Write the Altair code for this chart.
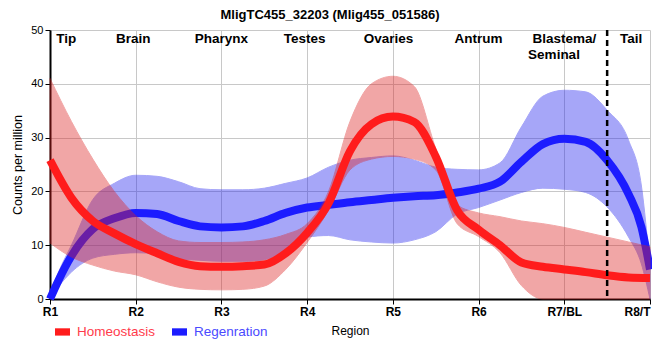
import json
import altair as alt
import pandas as pd

chart_title = "MligTC455_32203 (Mlig455_051586)"
region_ticks = ["R1", "R2", "R3", "R4", "R5", "R6", "R7/BL", "R8/T"]
series_names = ["Homeostasis", "Regenration"]
line_colors = ["#ff1c1c", "#1c1cff"]
band_colors = ["#dd2222", "#2222ee"]
label_colors = ["#ff3b4b", "#4a4aff"]

# Homeostasis (red)
homeo_x = [0, 0.25, 0.5, 0.75, 1, 1.25, 1.5, 1.75, 2, 2.25, 2.5, 2.75, 3, 3.25, 3.5,
           3.75, 4, 4.25, 4.5, 4.75, 5, 5.25, 5.5, 5.75, 6, 6.25, 6.5, 6.75, 7]
homeo_mean = [25.8, 18.8, 14.5, 12.2, 10.2, 8.5, 6.9, 6.1, 6.0, 6.1, 6.4, 8.5, 12.3, 17.8, 27.5,
              32.5, 33.9, 32.9, 26.5, 16.5, 12.9, 10.0, 6.8, 6.0, 5.5, 5.0, 4.4, 4.0, 3.9]
homeo_lo = [10.4, 7.8, 6.3, 5.2, 4.5, 3.2, 2.2, 1.8, 1.7, 1.8, 2.4, 5.5, 10.5, 16.5, 24.0,
            26.0, 26.5, 26.0, 24.0, 14.0, 11.6, 8.6, 2.5, 0.0, 0.0, 0.0, 0.0, 0.0, 0.0]
homeo_hi = [41.0, 33.0, 26.0, 20.0, 15.5, 12.5, 10.8, 10.5, 10.5, 10.6, 11.0, 12.0, 14.0, 20.0, 33.0,
            40.0, 41.4, 39.5, 28.0, 17.5, 16.0, 15.3, 14.5, 14.0, 13.3, 12.4, 11.5, 10.6, 9.7]

# Regenration (blue)
regen_x = [0, 0.1, 0.25, 0.5, 0.75, 1, 1.25, 1.5, 1.75, 2, 2.25, 2.5, 2.75, 3, 3.25, 3.5,
           3.75, 4, 4.25, 4.5, 4.75, 5, 5.25, 5.5, 5.75, 6, 6.25, 6.5, 6.75, 6.9, 7]
regen_mean = [0.0, 3.5, 8.0, 13.0, 15.0, 16.0, 15.8, 14.5, 13.5, 13.3, 13.5, 14.5, 16.0, 17.0, 17.5, 18.0,
              18.4, 18.8, 19.1, 19.3, 19.8, 20.5, 21.8, 25.5, 28.8, 29.8, 29.2, 25.8, 19.5, 13.4, 5.5]
regen_lo = [0.0, 2.3, 5.0, 7.6, 8.3, 8.6, 8.4, 7.5, 7.2, 7.0, 7.0, 7.3, 9.0, 11.5, 11.8, 11.0,
            10.6, 10.4, 11.0, 12.5, 15.8, 17.0, 18.4, 19.8, 20.6, 20.4, 19.8, 17.1, 11.5, 6.5, 0.0]
regen_hi = [0.5, 5.0, 10.0, 18.5, 21.5, 23.0, 22.8, 21.8, 20.5, 20.3, 20.3, 20.6, 21.5, 22.5, 24.5, 25.8,
            26.3, 26.6, 25.8, 24.5, 24.1, 24.0, 25.3, 32.0, 37.7, 38.8, 38.5, 35.1, 29.5, 21.0, 6.0]

# Region annotations along the top
region_names = ["Tip", "Brain", "Pharynx", "Testes", "Ovaries", "Antrum", "Blastema/", "Seminal", "Tail"]
region_pos = [0.19, 0.97, 2.0, 2.97, 3.95, 5.0, 6.0, 5.88, 6.78]
region_level = [47.65, 47.65, 47.65, 47.65, 47.65, 47.65, 47.65, 44.55, 47.65]
boundary_x = [6.5]

FONT = "Liberation Sans"

df_h = pd.DataFrame({"u": homeo_x, "mean": homeo_mean, "lo": homeo_lo, "hi": homeo_hi,
                     "series": series_names[0]})
df_r = pd.DataFrame({"u": regen_x, "mean": regen_mean, "lo": regen_lo, "hi": regen_hi,
                     "series": series_names[1]})
df_regions = pd.DataFrame({"x": region_pos, "y": region_level, "label": region_names})
df_rule = pd.DataFrame({"x": boundary_x})

label_expr = json.dumps(region_ticks) + "[datum.value]"
color_expr = "datum.label == '%s' ? '%s' : '%s'" % (series_names[0], label_colors[0], label_colors[1])
last_tick = len(region_ticks) - 1

x_enc = alt.X("u:Q", scale=alt.Scale(domain=[0, 7], nice=False),
              axis=alt.Axis(values=list(range(8)), labelExpr=label_expr, title="Region",
                            grid=True, gridColor="#c8c8c8", gridWidth=1,
                            domainColor="black", domainWidth=2, tickColor="black", tickSize=5,
                            labelFont=FONT, labelFontSize=12, labelFontWeight="bold",
                            labelColor="black", labelPadding=2, labelFlush=False, labelOverlap=False,
                            labelAlign=alt.condition("datum.value == %d" % last_tick,
                                                     alt.value("right"), alt.value("center")),
                            titleFont=FONT, titleFontSize=12, titleFontWeight="normal",
                            titleColor="black", titlePadding=8))
y_scale = alt.Scale(domain=[0, 50], nice=False)
y_axis = alt.Axis(values=list(range(0, 51, 5)), title="Counts per million",
                  grid=True, gridColor="#c8c8c8", gridWidth=1,
                  domainColor="black", domainWidth=2, tickColor="black", tickSize=5,
                  labelFont=FONT, labelFontSize=11, labelColor="black", labelPadding=2,
                  titleFont=FONT, titleFontSize=12.5, titleFontWeight="normal",
                  titleColor="black", titlePadding=6)

legend = alt.Legend(title=None, orient="none", legendX=1, legendY=290, direction="horizontal",
                    symbolType="M-1,0H1", symbolSize=225, symbolStrokeWidth=7.3, symbolOpacity=1,
                    labelFont=FONT, labelFontSize=13.5, labelColor=alt.ExprRef(expr=color_expr),
                    labelOffset=3, columnPadding=1)
color_enc = alt.Color("series:N", scale=alt.Scale(domain=series_names, range=line_colors),
                      legend=legend)


def band(df, col):
    return alt.Chart(df).mark_area(interpolate="monotone", fill=col, stroke=col,
                                   strokeWidth=1, opacity=0.4).encode(
        x=x_enc, y=alt.Y("lo:Q", scale=y_scale, axis=y_axis), y2="hi:Q")


def line(df):
    return alt.Chart(df).mark_line(interpolate="monotone", strokeWidth=8).encode(
        x=x_enc, y=alt.Y("mean:Q", scale=y_scale, axis=y_axis), color=color_enc)


rule = alt.Chart(df_rule).mark_rule(color="black", strokeDash=[6, 4], strokeWidth=2.5).encode(
    x=alt.X("x:Q"))

texts = alt.Chart(df_regions).mark_text(font=FONT, fontSize=13.5, fontWeight="bold",
                                        baseline="alphabetic", align="center", color="black").encode(
    x=alt.X("x:Q"), y=alt.Y("y:Q"), text="label:N")

chart = alt.layer(
    band(df_r, band_colors[1]), line(df_r),
    band(df_h, band_colors[0]), line(df_h),
    rule, texts
).properties(
    width=600, height=269,
    title=alt.TitleParams(text=chart_title, font=FONT, fontSize=13, fontWeight="bold",
                          anchor="middle", dx=-20, offset=2, frame="group", color="black"),
    padding={"left": 42, "top": 22, "right": 2, "bottom": 50},
    autosize=alt.AutoSizeParams(type="none"),
).configure_view(stroke=None)

chart.save("out.html", embed_options={"renderer": "svg", "actions": False})
